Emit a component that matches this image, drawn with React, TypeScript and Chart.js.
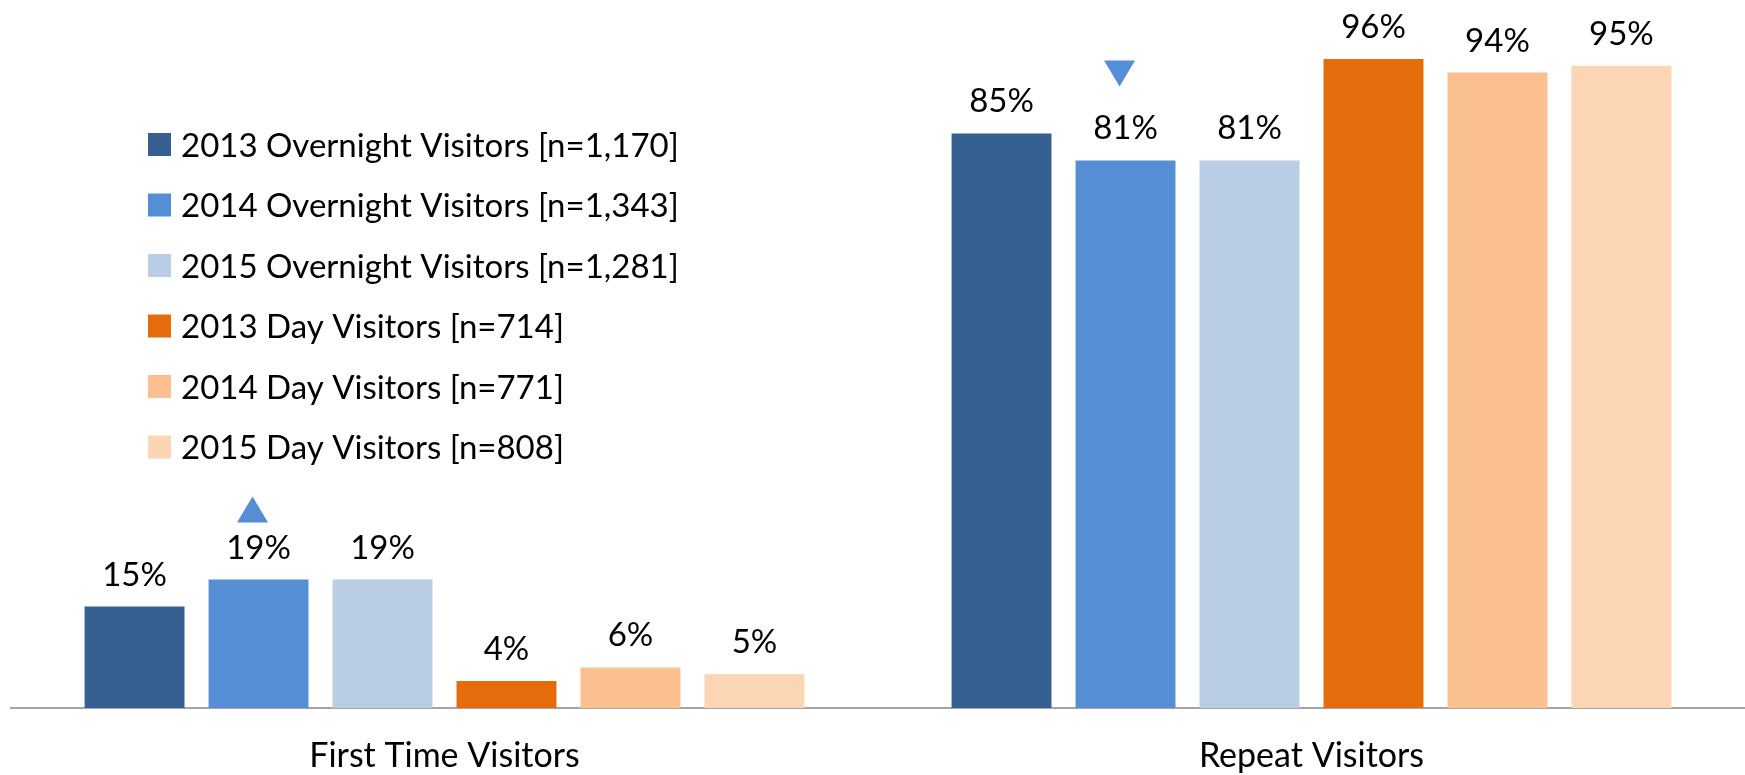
import React, { useEffect, useRef } from 'react';
import { Chart, registerables } from 'chart.js';

Chart.register(...registerables);

const categories = ['First Time Visitors', 'Repeat Visitors'];
const overnight2013 = [15, 85];
const overnight2014 = [19, 81];
const overnight2015 = [19, 81];
const day2013 = [4, 96];
const day2014 = [6, 94];
const day2015 = [5, 95];
const seriesLabels = [
  '2013 Overnight Visitors [n=1,170]',
  '2014 Overnight Visitors [n=1,343]',
  '2015 Overnight Visitors [n=1,281]',
  '2013 Day Visitors [n=714]',
  '2014 Day Visitors [n=771]',
  '2015 Day Visitors [n=808]',
];
const seriesColors = ['#376092', '#558ED5', '#B9CDE5', '#E46C0A', '#FAC090', '#FCD5B5'];
// significant change markers (vs. previous year) for 2014 Overnight Visitors
const overnight2014Change = ['up', 'down'];

const FONT = 'Lato, "Open Sans", sans-serif';
const FONT_SIZE = 33;

const labelsPlugin = {
  id: 'barLabels',
  afterDatasetsDraw(chart: any) {
    const ctx = chart.ctx;
    ctx.save();
    ctx.font = `${FONT_SIZE}px ${FONT}`;
    ctx.textAlign = 'center';
    ctx.textBaseline = 'alphabetic';
    chart.data.datasets.forEach((ds: any, di: number) => {
      const meta = chart.getDatasetMeta(di);
      meta.data.forEach((bar: any, i: number) => {
        const v = ds.data[i];
        ctx.fillStyle = '#000';
        ctx.fillText(`${v}%`, bar.x, bar.y - 21);
        const m = ds.changeMarkers ? ds.changeMarkers[i] : null;
        if (m) {
          const cx = bar.x - 6;
          const hw = 15.5;
          ctx.fillStyle = '#558ED5';
          ctx.beginPath();
          if (m === 'up') {
            ctx.moveTo(cx, bar.y - 83);
            ctx.lineTo(cx + hw, bar.y - 57);
            ctx.lineTo(cx - hw, bar.y - 57);
          } else {
            ctx.moveTo(cx - hw, bar.y - 100);
            ctx.lineTo(cx + hw, bar.y - 100);
            ctx.lineTo(cx, bar.y - 74);
          }
          ctx.closePath();
          ctx.fill();
        }
      });
    });
    ctx.restore();
  },
};

const legendPlugin = {
  id: 'sideLegend',
  afterDraw(chart: any) {
    const ctx = chart.ctx;
    ctx.save();
    ctx.font = `${FONT_SIZE}px ${FONT}`;
    ctx.textAlign = 'left';
    ctx.textBaseline = 'alphabetic';
    chart.data.datasets.forEach((ds: any, i: number) => {
      const cy = 144.5 + i * 60.5;
      ctx.fillStyle = ds.backgroundColor;
      ctx.fillRect(148, cy - 11.5, 23, 23);
      ctx.fillStyle = '#000';
      ctx.fillText(ds.label, 181, cy + 12);
    });
    ctx.restore();
  },
};

export default function App() {
  const canvasRef = useRef<HTMLCanvasElement | null>(null);

  useEffect(() => {
    document.body.style.margin = '0';
    const canvas = canvasRef.current;
    if (!canvas) return;
    const seriesData = [overnight2013, overnight2014, overnight2015, day2013, day2014, day2015];
    const chart = new Chart(canvas, {
      type: 'bar',
      data: {
        labels: categories,
        datasets: seriesData.map((d, i) => ({
          label: seriesLabels[i],
          data: d,
          backgroundColor: seriesColors[i],
          borderWidth: 0,
          categoryPercentage: 0.858,
          barPercentage: 0.806,
          changeMarkers: i === 1 ? overnight2014Change : null,
        })) as any,
      },
      options: {
        responsive: false,
        animation: false,
        devicePixelRatio: 1,
        layout: { padding: { top: 32, left: 11, right: 0, bottom: 0 } },
        plugins: {
          legend: { display: false },
          tooltip: { enabled: false },
        },
        scales: {
          x: {
            grid: { display: false, drawTicks: false },
            border: { display: true, color: '#A6A6A6', width: 2 },
            ticks: { color: '#000', font: { family: FONT, size: 34 }, padding: 28, maxRotation: 0 },
            afterFit: (scale: any) => {
              scale.height = 67;
            },
          },
          y: { display: false, min: 0, max: 100 },
        },
      },
      plugins: [labelsPlugin, legendPlugin],
    });
    return () => chart.destroy();
  }, []);

  return (
    <div style={{ width: 1745, height: 775, background: '#fff' }}>
      <canvas ref={canvasRef} width={1745} height={775} />
    </div>
  );
}
